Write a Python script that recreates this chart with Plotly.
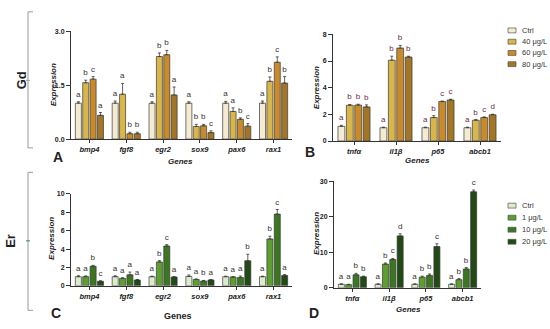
import plotly.graph_objects as go

W, H = 550, 329
FONT = "Liberation Sans"

# ---------------- data ----------------
genes_ac = ["bmp4", "fgf8", "egr2", "sox9", "pax6", "rax1"]
genes_bd = ["tnfα", "il1β", "p65", "abcb1"]

gd_series = ["Ctrl", "40 μg/L", "60 μg/L", "80 μg/L"]
er_series = ["Ctrl", "1 μg/L", "10 μg/L", "20 μg/L"]

gd_colors = ["#f4ebd2", "#d8b64a", "#c98a2c", "#a27626"]
er_colors = ["#dcebcb", "#5c9f2e", "#3b7620", "#214a14"]

# Panel A (Gd, developmental genes)
a_ctrl = [1.00, 1.00, 1.00, 1.00, 1.00, 1.00]
a_40 = [1.57, 1.25, 2.30, 0.35, 0.77, 1.61]
a_60 = [1.67, 0.15, 2.35, 0.37, 0.55, 2.14]
a_80 = [0.66, 0.15, 1.23, 0.18, 0.36, 1.56]
a_err_ctrl = [0.04, 0.06, 0.04, 0.04, 0.05, 0.06]
a_err_40 = [0.07, 0.30, 0.10, 0.06, 0.10, 0.12]
a_err_60 = [0.07, 0.04, 0.12, 0.04, 0.04, 0.15]
a_err_80 = [0.08, 0.04, 0.22, 0.05, 0.07, 0.18]
a_let_ctrl = ["a", "a", "a", "a", "a", "a"]
a_let_40 = ["b", "a", "b", "b", "a", "b"]
a_let_60 = ["c", "b", "b", "b", "b", "c"]
a_let_80 = ["a", "b", "a", "c", "c", "b"]

# Panel B (Gd, inflammation / transport genes)
b_ctrl = [1.10, 1.00, 1.00, 1.00]
b_40 = [2.68, 6.06, 1.76, 1.56]
b_60 = [2.70, 6.97, 2.96, 1.76]
b_80 = [2.56, 6.30, 3.08, 1.97]
b_err_ctrl = [0.08, 0.04, 0.04, 0.04]
b_err_40 = [0.06, 0.30, 0.14, 0.05]
b_err_60 = [0.06, 0.20, 0.04, 0.05]
b_err_80 = [0.15, 0.06, 0.05, 0.04]
b_let_ctrl = ["a", "a", "a", "a"]
b_let_40 = ["b", "b", "b", "b"]
b_let_60 = ["b", "b", "c", "c"]
b_let_80 = ["b", "b", "c", "d"]

# Panel C (Er, developmental genes)
c_ctrl = [1.00, 1.00, 1.00, 1.03, 1.00, 1.00]
c_1 = [1.00, 0.82, 2.60, 0.70, 0.96, 5.10]
c_10 = [2.13, 1.20, 4.33, 0.53, 0.92, 7.80]
c_20 = [0.50, 0.64, 0.96, 0.64, 2.73, 1.13]
c_err_ctrl = [0.10, 0.10, 0.05, 0.15, 0.05, 0.05]
c_err_1 = [0.08, 0.06, 0.15, 0.05, 0.05, 0.30]
c_err_10 = [0.10, 0.30, 0.15, 0.06, 0.15, 0.50]
c_err_20 = [0.05, 0.05, 0.05, 0.05, 0.70, 0.10]
c_let_ctrl = ["a", "a", "a", "a", "a", "a"]
c_let_1 = ["a", "a", "b", "a", "a", "b"]
c_let_10 = ["b", "a", "c", "b", "a", "c"]
c_let_20 = ["c", "a", "a", "a", "b", "a"]

# Panel D (Er, inflammation / transport genes)
d_ctrl = [1.00, 1.00, 1.00, 1.00]
d_1 = [0.90, 6.68, 3.00, 2.30]
d_10 = [3.66, 7.96, 3.50, 5.30]
d_20 = [3.10, 14.60, 11.60, 27.00]
d_err_ctrl = [0.10, 0.10, 0.10, 0.10]
d_err_1 = [0.10, 0.30, 0.30, 0.30]
d_err_10 = [0.40, 0.30, 0.40, 0.40]
d_err_20 = [0.20, 0.60, 0.80, 0.50]
d_let_ctrl = ["a", "a", "a", "a"]
d_let_1 = ["a", "b", "b", "b"]
d_let_10 = ["b", "c", "b", "b"]
d_let_20 = ["b", "d", "c", "c"]

# ---------------- helpers ----------------
def px(x):
    return x / W


def py(y):
    return 1 - y / H


fig = go.Figure()


def add_panel(n, genes, values, errs, letters, names, colors, ymax, let_color):
    xa = "x" if n == 1 else f"x{n}"
    ya = "y" if n == 1 else f"y{n}"
    eps = ymax * 1e-5
    for i, (vals, er, lets) in enumerate(zip(values, errs, letters)):
        fig.add_trace(go.Bar(
            x=genes, y=vals, name=names[i], xaxis=xa, yaxis=ya,
            offsetgroup=str(i),
            marker=dict(color=colors[i], line=dict(color="#3a3a3a", width=0.7)),
            error_y=dict(type="data", array=er, arrayminus=[0] * len(er),
                         symmetric=False, color="#3a3a3a", thickness=0.8, width=1.5),
            showlegend=False, hoverinfo="skip",
        ))
        fig.add_trace(go.Bar(
            x=genes, y=[eps] * len(vals), base=[v + e for v, e in zip(vals, er)],
            xaxis=xa, yaxis=ya, offsetgroup=str(i),
            marker=dict(color="rgba(0,0,0,0)", line=dict(width=0)),
            text=lets, textposition="outside", constraintext="none",
            textfont=dict(family=FONT, size=8, color=let_color),
            cliponaxis=False, showlegend=False, hoverinfo="skip",
        ))


add_panel(1, genes_ac, [a_ctrl, a_40, a_60, a_80],
          [a_err_ctrl, a_err_40, a_err_60, a_err_80],
          [a_let_ctrl, a_let_40, a_let_60, a_let_80],
          gd_series, gd_colors, 3.0, "#333333")
add_panel(2, genes_bd, [b_ctrl, b_40, b_60, b_80],
          [b_err_ctrl, b_err_40, b_err_60, b_err_80],
          [b_let_ctrl, b_let_40, b_let_60, b_let_80],
          gd_series, gd_colors, 8, "#6e2a4c")
add_panel(3, genes_ac, [c_ctrl, c_1, c_10, c_20],
          [c_err_ctrl, c_err_1, c_err_10, c_err_20],
          [c_let_ctrl, c_let_1, c_let_10, c_let_20],
          er_series, er_colors, 10, "#333333")
add_panel(4, genes_bd, [d_ctrl, d_1, d_10, d_20],
          [d_err_ctrl, d_err_1, d_err_10, d_err_20],
          [d_let_ctrl, d_let_1, d_let_10, d_let_20],
          er_series, er_colors, 30, "#333333")

tickfont_y = dict(family=FONT, size=7, color="#222", weight="bold")
tickfont_x = dict(family=FONT, size=7.5, color="#222", weight="bold", style="italic")


def xax(dom):
    return dict(domain=dom, showline=True, linecolor="#333", linewidth=1,
                ticks="outside", ticklen=3, tickcolor="#333", tickwidth=1,
                tickfont=tickfont_x, showgrid=False, zeroline=False, fixedrange=True)


def yax(dom, rng, dtick, fmt, anchor):
    return dict(domain=dom, range=rng, dtick=dtick, tickformat=fmt,
                showline=True, linecolor="#333", linewidth=1,
                ticks="outside", ticklen=4, tickcolor="#333", tickwidth=1,
                tickfont=tickfont_y, showgrid=False, zeroline=False,
                anchor=anchor, fixedrange=True)


layout = dict(
    width=W, height=H, autosize=False,
    margin=dict(l=0, r=0, t=0, b=0),
    paper_bgcolor="white", plot_bgcolor="white",
    barmode="group", bargap=0.2, bargroupgap=0.18,
    showlegend=False,
    font=dict(family=FONT, color="#222"),
    xaxis=dict(xax([px(71), px(292)]), anchor="y"),
    yaxis=yax([py(138), py(28)], [0, 3.0], 1.5, ".1f", "x"),
    xaxis2=dict(xax([px(333), px(501)]), anchor="y2"),
    yaxis2=yax([py(140), py(31)], [0, 8], 2, "d", "x2"),
    xaxis3=dict(xax([px(71), px(292)]), anchor="y3"),
    yaxis3=yax([py(288), py(194)], [0, 10], 2, "d", "x3"),
    xaxis4=dict(xax([px(334), px(481)]), anchor="y4"),
    yaxis4=yax([py(290), py(181)], [0, 30], 10, "d", "x4"),
)
fig.update_layout(**layout)

shapes = []
annotations = []


def text(x, y, s, size, bold=True, italic=False, angle=0, anchor="center", color="#222"):
    annotations.append(dict(
        x=px(x), y=py(y), xref="paper", yref="paper", text=s, showarrow=False,
        textangle=angle, xanchor=anchor, yanchor="middle",
        font=dict(family=FONT, size=size, color=color,
                  weight="bold" if bold else "normal",
                  style="italic" if italic else "normal"),
    ))


def line(x0, y0, x1, y1, color="#9a9a9a", width=1):
    shapes.append(dict(type="line", xref="paper", yref="paper",
                       x0=px(x0), y0=py(y0), x1=px(x1), y1=py(y1),
                       line=dict(color=color, width=width)))


# brackets on the left
line(28, 8, 28, 147)
line(28, 8, 33, 8)
line(28, 147, 33, 147)
line(26, 78, 30, 78)
line(28, 172, 28, 313)
line(28, 172, 33, 172)
line(28, 313, 33, 313)
line(26, 242, 30, 242, color="#3c8a3c")

text(21, 78, "Gd", 13, angle=-90)
text(11, 242, "Er", 13, angle=-90)

# panel letters
text(58, 156, "A", 14)
text(310, 151, "B", 14)
text(56, 316, "C", 14)
text(314, 316, "D", 14)

# axis titles
text(180, 161, "Genes", 8, italic=True)
text(417, 160, "Genes", 8, italic=True)
text(178, 319, "Genes", 9)
text(408, 312, "Genes", 8, italic=True)
text(53, 83, "Expression", 8, italic=True, angle=-90)
text(316, 86, "Expression", 8, italic=True, angle=-90)
text(52, 240, "Expression", 8, italic=True, angle=-90)
text(316, 235, "Expression", 8, italic=True, angle=-90)

# legends (custom, compact)
for i, (nm, col) in enumerate(zip(gd_series, gd_colors)):
    yc = 27 + i * 11.5
    shapes.append(dict(type="rect", xref="paper", yref="paper",
                       x0=px(508), x1=px(516), y0=py(yc + 2.5), y1=py(yc - 2.5),
                       fillcolor=col, line=dict(color="#555", width=0.7)))
    text(520, yc, nm, 7.5, bold=False, anchor="left", color="#333")

for i, (nm, col) in enumerate(zip(er_series, er_colors)):
    yc = 206 + i * 12.3
    shapes.append(dict(type="rect", xref="paper", yref="paper",
                       x0=px(508), x1=px(516), y0=py(yc + 2.5), y1=py(yc - 2.5),
                       fillcolor=col, line=dict(color="#555", width=0.7)))
    text(520, yc, nm, 7.5, bold=False, anchor="left", color="#333")

fig.update_layout(shapes=shapes, annotations=annotations)
fig.write_html(
    "out.html",
    config={"displayModeBar": False, "staticPlot": True},
    post_script="document.body.style.margin='0';document.body.style.padding='0';"
                "document.body.style.overflow='hidden';",
)
